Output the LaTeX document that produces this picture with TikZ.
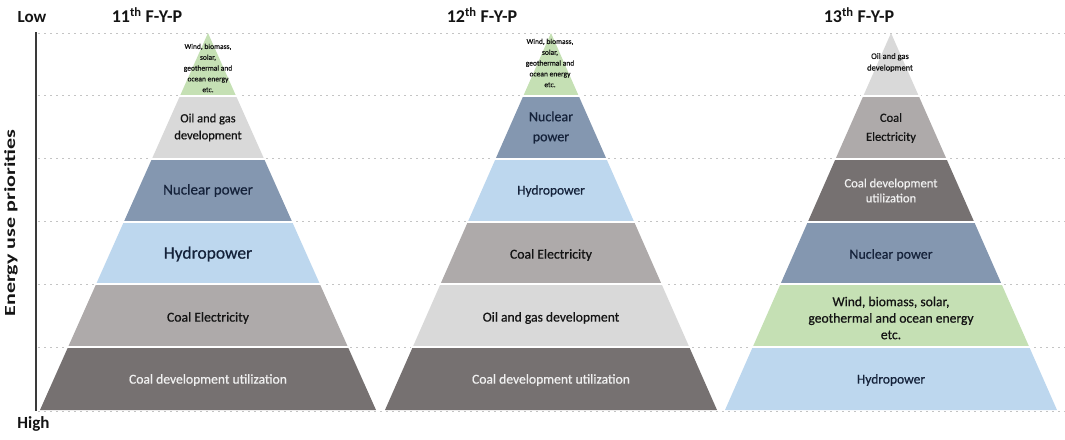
\documentclass[tikz,border=0pt]{standalone}
\usepackage{fontspec}
\setmainfont{Carlito}
\newfontfamily\labfont{Carlito}[FakeBold=0.6]
\definecolor{cgreen}{HTML}{C5E0B4}
\definecolor{clight}{HTML}{D9D9D9}
\definecolor{cnuc}{HTML}{8497B0}
\definecolor{chydro}{HTML}{BDD7EE}
\definecolor{celec}{HTML}{AEAAAA}
\definecolor{cdev}{HTML}{767171}
\definecolor{labtext}{HTML}{141414}
\definecolor{navytext}{HTML}{15223A}
\definecolor{gridgray}{HTML}{C4C4C4}
\definecolor{axisgray}{HTML}{3A3A3A}
\newcommand{\pyrlayer}[4]{% cx, halfwidth, k, colour
  \pgfmathsetmacro{\pyrYtop}{33+#3*62.8333}
  \pgfmathsetmacro{\pyrYbot}{33+(#3+1)*62.8333}
  \pgfmathsetmacro{\pyrWtop}{#2*#3/6}
  \pgfmathsetmacro{\pyrWbot}{#2*(#3+1)/6}
  \fill[#4] ({#1-\pyrWtop},\pyrYtop) -- ({#1+\pyrWtop},\pyrYtop) -- ({#1+\pyrWbot},\pyrYbot) -- ({#1-\pyrWbot},\pyrYbot) -- cycle;
}
\newcommand{\pyrgaps}[2]{% cx, halfwidth
  \foreach \gk in {1,...,5}{
    \pgfmathsetmacro{\pyrYg}{33+\gk*62.8333}
    \pgfmathsetmacro{\pyrWg}{#2*\gk/6+2}
    \draw[white, line width=2pt] ({#1-\pyrWg},\pyrYg) -- ({#1+\pyrWg},\pyrYg);
  }
}
\tikzset{
  gridline/.style={draw=gridgray, line width=0.8pt, dash pattern=on 2pt off 4pt},
  lab/.style={text=labtext, align=center, inner sep=0pt},
  navylab/.style={lab, text=navytext},
  whitelab/.style={lab, text=white!94!black},
  tinylab/.style={lab, font=\labfont\fontsize{7.5}{10.8}\selectfont},
  ttl/.style={font=\bfseries\fontsize{18}{20}\selectfont, text=labtext, inner sep=0pt, anchor=base},
  axlab/.style={font=\bfseries\fontsize{17}{19}\selectfont, text=labtext, inner sep=0pt, anchor=base},
}
\begin{document}
\begin{tikzpicture}[x=1pt,y=-1pt]
\useasboundingbox (0,0) rectangle (1065,439);
% grid lines
\foreach \gy in {0,...,5}{
  \draw[gridline] (38,{33+\gy*62.8333}) -- (1065,{33+\gy*62.8333});
}
\draw[gridline] (38,411) -- (1065,411);
% pyramid 1
\pyrlayer{208}{168}{0}{cgreen}
\pyrlayer{208}{168}{1}{clight}
\pyrlayer{208}{168}{2}{cnuc}
\pyrlayer{208}{168}{3}{chydro}
\pyrlayer{208}{168}{4}{celec}
\pyrlayer{208}{168}{5}{cdev}
\pyrgaps{208}{168}
% pyramid 2
\pyrlayer{551}{166}{0}{cgreen}
\pyrlayer{551}{166}{1}{cnuc}
\pyrlayer{551}{166}{2}{chydro}
\pyrlayer{551}{166}{3}{celec}
\pyrlayer{551}{166}{4}{clight}
\pyrlayer{551}{166}{5}{cdev}
\pyrgaps{551}{166}
% pyramid 3
\pyrlayer{891}{166}{0}{clight}
\pyrlayer{891}{166}{1}{celec}
\pyrlayer{891}{166}{2}{cdev}
\pyrlayer{891}{166}{3}{cnuc}
\pyrlayer{891}{166}{4}{cgreen}
\pyrlayer{891}{166}{5}{chydro}
\pyrgaps{891}{166}
% axis
\draw[axisgray, line width=1.8pt] (36,32) -- (36,411);
\node[axlab] (low) at (32,23) {Low};
\node[axlab] (high) at (33.5,428.5) {High};
\node[rotate=90, font=\bfseries\fontsize{22}{24}\selectfont, text=labtext, inner sep=0pt] (prio) at (11,223) {\scalebox{1}[0.7]{Energy use priorities}};
% titles
\node[ttl] (t11) at (147,23) {11\textsuperscript{th} F-Y-P};
\node[ttl] (t12) at (482,23) {12\textsuperscript{th} F-Y-P};
\node[ttl] (t13) at (859,23) {13\textsuperscript{th} F-Y-P};
% pyramid 1 labels
\node[tinylab] (a0) at (208,68) {Wind, biomass,\\solar,\\geothermal and\\ocean energy\\etc.};
\node[lab, font=\labfont\fontsize{12.5}{17}\selectfont] (a1) at (208,127.5) {Oil and gas\\development};
\node[navylab, font=\labfont\fontsize{15}{17}\selectfont] (a2) at (208,190.5) {Nuclear power};
\node[navylab, font=\labfont\fontsize{17.5}{19}\selectfont] (a3) at (208,254) {Hydropower};
\node[lab, font=\labfont\fontsize{13.7}{16}\selectfont] (a4) at (208,318) {Coal Electricity};
\node[whitelab, font=\labfont\fontsize{13.6}{16}\selectfont] (a5) at (208,380) {Coal development utilization};
% pyramid 2 labels
\node[tinylab] (b0) at (550,63) {Wind, biomass,\\solar,\\geothermal and\\ocean energy\\etc.};
\node[navylab, font=\labfont\fontsize{14}{20}\selectfont] (b1) at (551,127.5) {Nuclear\\power};
\node[navylab, font=\labfont\fontsize{13.4}{16}\selectfont] (b2) at (551,191) {Hydropower};
\node[lab, font=\labfont\fontsize{13.7}{16}\selectfont] (b3) at (551,255) {Coal Electricity};
\node[lab, font=\labfont\fontsize{13.6}{16}\selectfont] (b4) at (551,318) {Oil and gas development};
\node[whitelab, font=\labfont\fontsize{13.6}{16}\selectfont] (b5) at (551,380) {Coal development utilization};
% pyramid 3 labels
\node[lab, font=\labfont\fontsize{8.5}{11.6}\selectfont] (c0) at (890,62.5) {Oil and gas\\development};
\node[lab, font=\labfont\fontsize{12.5}{19}\selectfont] (c1) at (891,128) {Coal\\Electricity};
\node[whitelab, font=\labfont\fontsize{12.6}{15}\selectfont] (c2) at (891,190.5) {Coal development\\utilization};
\node[navylab, font=\labfont\fontsize{13.9}{16}\selectfont] (c3) at (891,255) {Nuclear power};
\node[lab, font=\labfont\fontsize{13.6}{16.5}\selectfont] (c4) at (891,318) {Wind, biomass, solar,\\geothermal and ocean energy\\etc.};
\node[navylab, font=\labfont\fontsize{13.5}{16}\selectfont] (c5) at (891,380) {Hydropower};
\end{tikzpicture}
\end{document}
